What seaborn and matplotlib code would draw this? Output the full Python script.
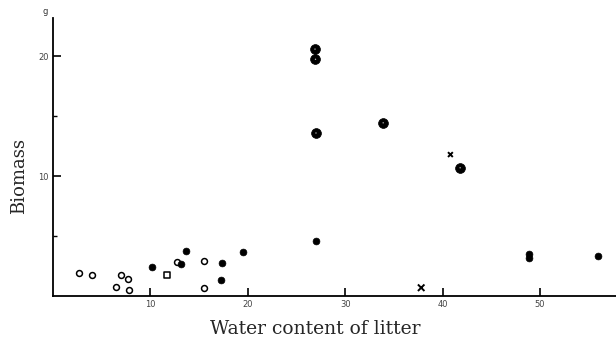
import matplotlib
matplotlib.use("Agg")
import matplotlib.pyplot as plt
import seaborn as sns
import pandas as pd

# open circles
open_x = [2.7, 4.05, 7.0, 7.75, 6.5, 7.8, 12.7, 15.5, 15.5]
open_y = [1.9, 1.72, 1.72, 1.4, 0.75, 0.47, 2.83, 2.92, 0.67]
# open square
sq_x = [11.7]
sq_y = [1.72]
# small filled circles
fill_x = [10.15, 13.1, 13.7, 17.35, 17.3, 19.5, 27.0, 48.9, 48.9, 56.0]
fill_y = [2.44, 2.64, 3.75, 2.75, 1.33, 3.67, 4.58, 3.5, 3.2, 3.36]
# large filled circles
big_x = [26.9, 26.95, 27.0, 33.9, 41.8]
big_y = [20.6, 19.75, 13.6, 14.45, 10.7]
# crosses
cross_x = [37.8, 40.8]
cross_y = [0.69, 11.8]
cross_s = [22, 12]

xticks = [10, 20, 30, 40, 50]
xticklabels = ["10", "20", "30", "40", "50"]
yticks = [10, 20]
yticklabels = ["10", "20"]

sns.set_style("white")
plt.rcParams["font.family"] = ["DejaVu Serif"]

fig = plt.figure(figsize=(6.16, 3.45), dpi=100)
ax = fig.add_axes([0.086, 0.142, 0.914, 0.806])

sns.scatterplot(x=open_x, y=open_y, ax=ax, marker="o", s=18,
                facecolor="white", edgecolor="black", linewidth=1.1)
sns.scatterplot(x=sq_x, y=sq_y, ax=ax, marker="s", s=16,
                facecolor="white", edgecolor="black", linewidth=1.1)
sns.scatterplot(x=fill_x, y=fill_y, ax=ax, marker="o", s=24,
                color="black", edgecolor="black", linewidth=0.5)
sns.scatterplot(x=big_x, y=big_y, ax=ax, marker="o", s=50,
                color="black", edgecolor="black", linewidth=0.5)
sns.scatterplot(x=big_x, y=big_y, ax=ax, marker="o", s=1.0,
                color="#bbbbbb", edgecolor="none", linewidth=0)
df_c = pd.DataFrame({"x": cross_x, "y": cross_y, "s": cross_s})
sns.scatterplot(data=df_c, x="x", y="y", size="s", sizes=(12, 22), ax=ax,
                marker="x", color="black", linewidth=1.4, legend=False)

ax.set_xlim(0, 57.8)
ax.set_ylim(0, 23.2)

for s in ["top", "right"]:
    ax.spines[s].set_visible(False)
for s in ["left", "bottom"]:
    ax.spines[s].set_color("black")
    ax.spines[s].set_linewidth(1.3)

ax.set_xticks(xticks)
ax.set_xticklabels(xticklabels, fontsize=6, color="#444444",
                   family="DejaVu Sans")
ax.set_yticks(yticks)
ax.set_yticklabels(yticklabels, fontsize=6, color="#444444",
                   family="DejaVu Sans")
ax.set_yticks([5, 15], minor=True)
ax.tick_params(axis="both", which="major", direction="in", length=6,
               width=1.2, color="black", pad=3)
ax.tick_params(axis="y", which="minor", direction="in", length=3,
               width=1.0, color="black", left=True)
ax.tick_params(axis="x", which="major", bottom=True)
ax.tick_params(axis="y", which="major", left=True)

ax.set_xlabel("Water content of litter", fontsize=13.5)
ax.xaxis.set_label_coords(0.465, -0.086)
ax.set_ylabel("Biomass", fontsize=13)
ax.yaxis.set_label_coords(-0.044, 0.43)

ax.text(-0.5, 23.4, "g", fontsize=6, ha="right", va="bottom",
        color="#333333", family="DejaVu Sans")

fig.savefig("out.png", dpi=100)
